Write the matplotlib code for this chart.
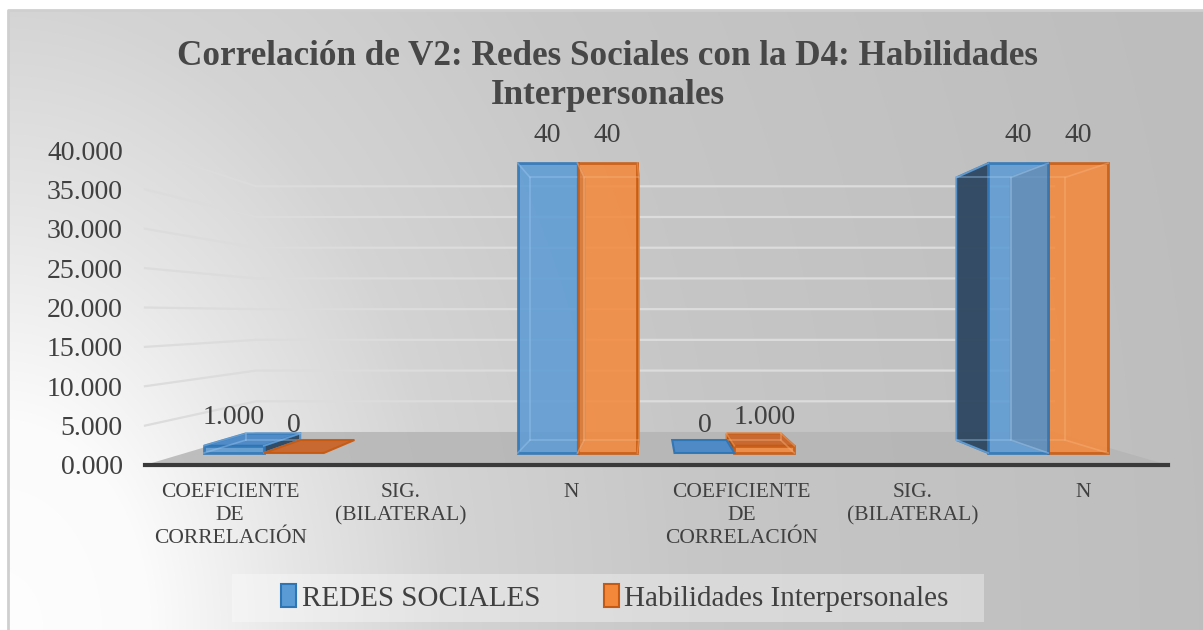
import numpy as np
import matplotlib
matplotlib.use("Agg")
import matplotlib.pyplot as plt
from matplotlib.patches import Polygon, Patch, Rectangle

plt.rcParams['font.family'] = ['Liberation Serif', 'DejaVu Serif']

# data
categories = ['COEFICIENTE\nDE\nCORRELACIÓN', 'SIG.\n(BILATERAL)', 'N',
              'COEFICIENTE\nDE\nCORRELACIÓN', 'SIG.\n(BILATERAL)', 'N']
redes = [1.0, np.nan, 40, 0, np.nan, 40]
habilidades = [0, np.nan, 40, 1.0, np.nan, 40]
redes_labels = ['1.000', '', '40', '0', '', '40']
habilidades_labels = ['0', '', '40', '1.000', '', '40']
series_names = ['REDES SOCIALES', 'Habilidades Interpersonales']
yticks = [0, 5, 10, 15, 20, 25, 30, 35, 40]

title = 'Correlación de V2: Redes Sociales con la D4: Habilidades\nInterpersonales'

W, H = 1203, 630
fig = plt.figure(figsize=(W / 100, H / 100), dpi=100)
fig.patch.set_facecolor('white')

# background: chart area with a white glow in the lower left
bg = fig.add_axes([0, 0, 1, 1])
bg.set_xlim(0, W)
bg.set_ylim(H, 0)
bg.axis('off')
xx, yy = np.meshgrid(np.arange(W), np.arange(H))
d = np.sqrt(xx ** 2 + ((H - yy) / 1.4) ** 2)
shade = np.interp(d, [0, 150, 300, 450, 700, 1200],
                  [0.995, 0.985, 0.9, 0.83, 0.778, 0.745])
img = np.dstack([shade, shade, shade])
img[:10, :, :] = 1.0
img[:, :8, :] = 1.0
bg.imshow(img, extent=[0, W, H, 0], aspect='auto', interpolation='bilinear')
bg.plot([8, 8, W], [H, 10, 10], color='#cfcfcf', lw=2)

# front plane axes
ax = fig.add_axes([145 / W, (H - 465) / H, (1168 - 145) / W, (465 - 150) / H])
ax.set_xlim(-0.5, 5.5)
ax.set_ylim(0, 40)
ax.patch.set_alpha(0)
for s in ['top', 'right', 'left']:
    ax.spines[s].set_visible(False)
ax.spines['bottom'].set_color('#3a3a3a')
ax.spines['bottom'].set_linewidth(3)
ax.spines['bottom'].set_zorder(20)

vx, vy = 2.462, 19.05   # vanishing point (data coords)


def proj(x, y, s):
    return (vx + s * (x - vx), vy + s * (y - vy))


# floor
s_floor = 0.78
floor = [proj(-0.5, 0, 1), proj(5.5, 0, 1), proj(5.5, 0, s_floor), proj(-0.5, 0, s_floor)]
ax.add_patch(Polygon(floor, closed=True, facecolor='#b5b5b5', edgecolor='none',
                     alpha=0.85, zorder=1, clip_on=False))

# gridlines on back and left walls
for v in yticks[1:]:
    p0 = proj(-0.5, v, 1)
    p1 = proj(-0.5, v, s_floor)
    p2 = proj(5.5, v, s_floor)
    ax.plot([p0[0], p1[0], p2[0]], [p0[1], p1[1], p2[1]], color='#dcdcdc',
            lw=1.6, zorder=2, clip_on=False, solid_joinstyle='round')

# bars as transparent boxes
w = 0.382
sf, sb = 0.92, 0.8335
styles = [
    dict(face='#5b9bd5', edge='#2e75b6', top='#4a88c8', side='#2c4660', inner='#9cc6ee'),
    dict(face='#f4883a', edge='#c65a12', top='#c9652a', side='#9a4a15', inner='#f7b27a'),
]
boxes = []
for j, vals in enumerate([redes, habilidades]):
    for i, v in enumerate(vals):
        if np.isnan(v):
            continue
        x0 = i - w + j * w
        boxes.append((x0, x0 + w, v, j))

# draw boxes farther from the vanishing point first
boxes.sort(key=lambda b: -abs((b[0] + b[1]) / 2 - vx))
z = 5
for x0, x1, v, j in boxes:
    st = styles[j]
    f = [proj(x0, 0, sf), proj(x1, 0, sf), proj(x1, v, sf), proj(x0, v, sf)]
    b = [proj(x0, 0, sb), proj(x1, 0, sb), proj(x1, v, sb), proj(x0, v, sb)]
    # side faces
    if f[0][0] > vx and v > 0:
        ax.add_patch(Polygon([f[0], f[3], b[3], b[0]], facecolor=st['side'],
                             edgecolor=st['edge'], lw=1.5, alpha=0.95, zorder=z, clip_on=False))
    if f[1][0] < vx and v > 0:
        ax.add_patch(Polygon([f[1], f[2], b[2], b[1]], facecolor=st['side'],
                             edgecolor=st['edge'], lw=1.5, alpha=0.95, zorder=z, clip_on=False))
    # top face (seen from above)
    if v < vy:
        ax.add_patch(Polygon([f[3], f[2], b[2], b[3]], facecolor=st['top'],
                             edgecolor=st['edge'], lw=1.5, alpha=0.95, zorder=z + 0.1, clip_on=False))
    # front face
    if v > 0:
        ax.add_patch(Polygon(f, facecolor=st['face'], edgecolor=st['edge'], lw=2,
                             alpha=0.86, zorder=z + 0.2, clip_on=False))
        # back edges seen through the face
        bx = [b[0][0], b[1][0], b[2][0], b[3][0], b[0][0]]
        by = [b[0][1], b[1][1], b[2][1], b[3][1], b[0][1]]
        ax.plot(bx, by, color=st['inner'], lw=1.2, alpha=0.45, zorder=z + 0.3, clip_on=False)
        for k in range(4):
            ax.plot([f[k][0], b[k][0]], [f[k][1], b[k][1]], color=st['inner'], lw=1.2,
                    alpha=0.45, zorder=z + 0.3, clip_on=False)
    z += 1

# data labels
for j, (vals, labs) in enumerate([(redes, redes_labels), (habilidades, habilidades_labels)]):
    for i, (v, lab) in enumerate(zip(vals, labs)):
        if np.isnan(v) or lab == '':
            continue
        x0 = i - w + j * w
        px, py = proj(x0 + w / 2, v, sf)
        ax.annotate(lab, (px, py), xytext=(0, 11), textcoords='offset points',
                    ha='center', va='bottom', fontsize=20, color='#404040',
                    zorder=30, annotation_clip=False)

# axes ticks
ax.set_yticks(yticks)
ax.set_yticklabels([f'{v:.3f}' for v in yticks])
ax.tick_params(axis='y', length=0, pad=16, labelsize=20, labelcolor='#404040')
ax.set_xticks(range(len(categories)))
ax.set_xticklabels(categories, fontsize=15.5, color='#404040', linespacing=1.3)
ax.tick_params(axis='x', length=0, pad=13)

fig.text(0.505, 1 - 76 / H, title, ha='center', va='center', fontsize=25.3,
         fontweight='bold', color='#474747', linespacing=1.22)

# legend
bg.add_patch(Rectangle((232, 574), 752, 48, facecolor='white', alpha=0.35,
                       edgecolor='none', zorder=3))
handles = [Patch(facecolor=styles[k]['face'], edgecolor=styles[k]['edge'], lw=1.5)
           for k in range(2)]
fig.legend(handles, series_names, loc='center', bbox_to_anchor=(615 / W, 1 - 598 / H),
           ncol=2, frameon=False, fontsize=21, handlelength=0.5, handleheight=0.85,
           handletextpad=0.2, columnspacing=2.2, labelcolor='#404040')

fig.savefig('out.png', dpi=100)
